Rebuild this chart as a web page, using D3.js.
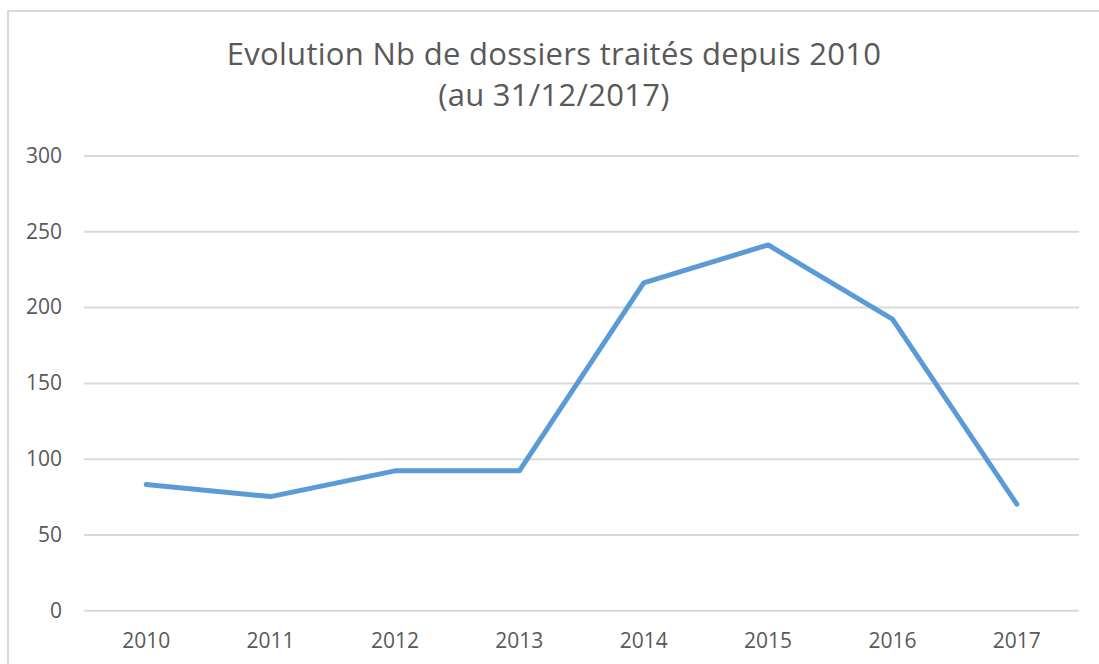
<!DOCTYPE html>
<html>
<head>
<meta charset="utf-8">
<script src="https://cdn.jsdelivr.net/npm/d3@7"></script>
<style>
  body { margin: 0; background: #fff; }
  svg { display: block; }
</style>
</head>
<body>
<script>
// --- Data ---
const years = ["2010", "2011", "2012", "2013", "2014", "2015", "2016", "2017"];
const dossiers = [83, 75, 92, 92, 216, 241, 192, 70];
const yTicks = [0, 50, 100, 150, 200, 250, 300];
const titleLines = ["Evolution Nb de dossiers traités depuis 2010", "(au 31/12/2017)"];

// --- Layout ---
const W = 1099, H = 664;
const plot = { left: 84, right: 1079, top: 155.5, bottom: 610.3 };
const FONT = "'Open Sans', sans-serif";
const TEXT = "#595959";

const svg = d3.select("body").append("svg")
  .attr("width", W).attr("height", H);

// Chart frame
svg.append("rect")
  .attr("x", 8).attr("y", 11)
  .attr("width", W + 20).attr("height", H + 20)
  .attr("fill", "none").attr("stroke", "#d9d9d9").attr("stroke-width", 2);

// Title
svg.append("g").selectAll("text")
  .data(titleLines)
  .join("text")
  .attr("x", 554)
  .attr("y", (d, i) => 65 + i * 41)
  .attr("text-anchor", "middle")
  .attr("font-family", FONT)
  .attr("font-size", 31)
  .attr("letter-spacing", 0.3)
  .attr("fill", TEXT)
  .text(d => d);

// --- Scales ---
const x = d3.scaleBand().domain(years).range([plot.left, plot.right]);
const y = d3.scaleLinear().domain([0, 300]).range([plot.bottom, plot.top]);

// Gridlines + y labels
const yAxis = svg.append("g")
  .attr("transform", `translate(${plot.left},0)`)
  .call(d3.axisLeft(y).tickValues(yTicks).tickSize(-(plot.right - plot.left)).tickPadding(22));
yAxis.select(".domain").remove();
yAxis.selectAll(".tick line").attr("stroke", "#d9d9d9").attr("stroke-width", 2);
yAxis.selectAll(".tick text")
  .attr("font-family", FONT).attr("font-size", 21).attr("fill", TEXT);

// x labels
const xAxis = svg.append("g")
  .attr("transform", `translate(0,${plot.bottom})`)
  .call(d3.axisBottom(x).tickSize(0).tickPadding(23));
xAxis.select(".domain").remove();
xAxis.selectAll(".tick text")
  .attr("font-family", FONT).attr("font-size", 21).attr("fill", TEXT);

// Line
const line = d3.line()
  .x((d, i) => x(years[i]) + x.bandwidth() / 2)
  .y(d => y(d));

svg.append("path")
  .datum(dossiers)
  .attr("d", line)
  .attr("fill", "none")
  .attr("stroke", "#5b9bd5")
  .attr("stroke-width", 5)
  .attr("stroke-linejoin", "round")
  .attr("stroke-linecap", "round");
</script>
</body>
</html>
